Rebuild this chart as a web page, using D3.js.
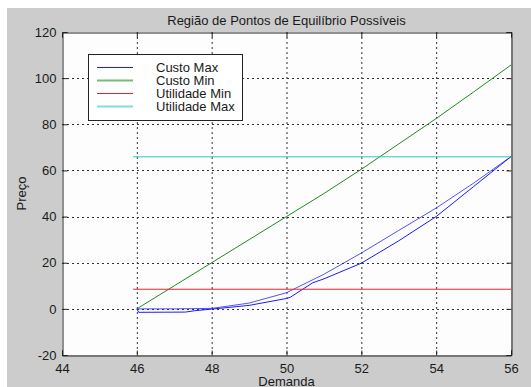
<!DOCTYPE html>
<html>
<head>
<meta charset="utf-8">
<script src="https://cdn.jsdelivr.net/npm/d3@7"></script>
<style>
  html, body { margin: 0; padding: 0; background: #ffffff; }
  svg { display: block; }
  text { font-family: "Liberation Sans", Arial, sans-serif; fill: #1a1a1a; }
</style>
</head>
<body>
<svg id="chart" width="531" height="387"></svg>
<script>
// Demand values (x) and price curves (y)
const demanda = [46, 47, 48, 49, 50, 51, 52, 53, 54, 55, 56];
const custoMin = [0, 10, 20, 30, 40, 50, 60.5, 71.5, 82.5, 94, 105.7];

// Custo Max is drawn as two branches
const custoMaxXA = [46, 46.05, 47.3, 47.55, 48, 49, 50, 50.1, 50.7, 51, 52, 53, 54, 55, 56];
const custoMaxA  = [0, -1.5, -1.4, -0.8, -0.1, 1.5, 4.5, 5, 11.3, 13, 19.8, 29.5, 40, 53, 66];
const custoMaxXB = [46, 47, 48, 49, 50, 51, 52, 53, 54, 55, 56];
const custoMaxB  = [0, 0, 0.2, 2.5, 7, 15, 24.2, 34, 43.7, 54.5, 66];

const utilidadeMin = 8.5;
const utilidadeMax = 65.9;
const utilidadeRange = [45.9, 56];

const xTicks = [44, 46, 48, 50, 52, 54, 56];
const yTicks = [-20, 0, 20, 40, 60, 80, 100, 120];

const seriesNames = ["Custo Max", "Custo Min", "Utilidade Min", "Utilidade Max"];
const seriesColors = ["#1a1aff", "#1e8c1e", "#ee2222", "#2ec4c4"];

const svg = d3.select("#chart");
const W = 531, H = 387;
const plot = { left: 62, right: 511, top: 32, bottom: 355 };

// figure background
svg.append("rect").attr("x", 7).attr("y", 8).attr("width", W - 7).attr("height", H - 8).attr("fill", "#cccccc");
svg.append("rect").attr("x", plot.left).attr("y", plot.top)
  .attr("width", plot.right - plot.left).attr("height", plot.bottom - plot.top).attr("fill", "#fdfdfd");

const x = d3.scaleLinear().domain([44, 56]).range([plot.left, plot.right]);
const y = d3.scaleLinear().domain([-20, 120]).range([plot.bottom, plot.top]);

// dotted grid
const grid = svg.append("g");
grid.selectAll("line.gx").data(xTicks.slice(1, -1)).join("line")
  .attr("x1", d => x(d) + 0.5).attr("x2", d => x(d) + 0.5)
  .attr("y1", plot.top).attr("y2", plot.bottom)
  .attr("stroke", "#333").attr("stroke-width", 1).attr("stroke-dasharray", "2,3");
grid.selectAll("line.gy").data(yTicks.slice(1, -1)).join("line")
  .attr("y1", d => Math.round(y(d)) + 0.5).attr("y2", d => Math.round(y(d)) + 0.5)
  .attr("x1", plot.left).attr("x2", plot.right)
  .attr("stroke", "#333").attr("stroke-width", 1).attr("stroke-dasharray", "2,3");

// axes with inward ticks; plain hyphen for negative labels
const fontSize = "13px";
const fmt = d => String(d);
const bottomAxis = d3.axisBottom(x).tickValues(xTicks).tickSize(-5).tickPadding(8).tickFormat(fmt);
const leftAxis = d3.axisLeft(y).tickValues(yTicks).tickSize(-5).tickPadding(6).tickFormat(fmt);
const topAxis = d3.axisTop(x).tickValues(xTicks).tickSize(-5).tickFormat("");
const rightAxis = d3.axisRight(y).tickValues(yTicks).tickSize(-5).tickFormat("");

function styleAxis(g) {
  g.select(".domain").attr("stroke", "#222");
  g.selectAll(".tick line").attr("stroke", "#222");
  g.selectAll(".tick text").style("font-size", fontSize).attr("fill", "#1a1a1a")
    .style("font-family", "'Liberation Sans', Arial, sans-serif");
}
svg.append("g").attr("transform", `translate(0,${plot.bottom + 0.5})`).call(bottomAxis).call(styleAxis);
svg.append("g").attr("transform", `translate(${plot.left + 0.5},0)`).call(leftAxis).call(styleAxis);
svg.append("g").attr("transform", `translate(0,${plot.top + 0.5})`).call(topAxis).call(styleAxis);
svg.append("g").attr("transform", `translate(${plot.right + 0.5},0)`).call(rightAxis).call(styleAxis);

// data lines
const line = d3.line().x(d => x(d[0])).y(d => y(d[1]));
const lines = svg.append("g").attr("fill", "none").attr("stroke-linejoin", "round");

lines.append("path").datum(d3.zip(custoMaxXB, custoMaxB)).attr("d", line)
  .attr("stroke", seriesColors[0]).attr("stroke-width", 1).attr("stroke-opacity", 0.75);
lines.append("path").datum(d3.zip(custoMaxXA, custoMaxA)).attr("d", line)
  .attr("stroke", seriesColors[0]).attr("stroke-width", 1);
lines.append("path").datum(d3.zip(demanda, custoMin)).attr("d", line)
  .attr("stroke", seriesColors[1]).attr("stroke-width", 1);
lines.append("path").datum(utilidadeRange.map(d => [d, utilidadeMin])).attr("d", line)
  .attr("stroke", seriesColors[2]).attr("stroke-width", 1);
lines.append("path").datum(utilidadeRange.map(d => [d, utilidadeMax])).attr("d", line)
  .attr("stroke", seriesColors[3]).attr("stroke-width", 1);

// legend
const leg = svg.append("g");
leg.append("rect").attr("x", 88.5).attr("y", 54.5).attr("width", 154).attr("height", 66)
  .attr("fill", "#ffffff").attr("stroke", "#222").attr("stroke-width", 1);
const rowY = [67.5, 80.5, 93.5, 106.5];
const legWidths = [1, 2, 1, 2];
seriesNames.forEach((name, i) => {
  leg.append("line").attr("x1", 97).attr("x2", 133).attr("y1", rowY[i]).attr("y2", rowY[i])
    .attr("stroke", seriesColors[i]).attr("stroke-width", legWidths[i])
    .attr("stroke-opacity", legWidths[i] > 1 ? 0.6 : 1);
  leg.append("text").attr("x", 156).attr("y", rowY[i]).attr("dy", "0.35em")
    .style("font-size", fontSize).text(name);
});

// title and axis labels
svg.append("text").attr("x", (plot.left + plot.right) / 2).attr("y", 24.5)
  .attr("text-anchor", "middle").style("font-size", fontSize)
  .text("Região de Pontos de Equilíbrio Possíveis");
svg.append("text").attr("x", (plot.left + plot.right) / 2).attr("y", 386)
  .attr("text-anchor", "middle").style("font-size", fontSize).text("Demanda");
svg.append("text").attr("transform", `translate(26,${(plot.top + plot.bottom) / 2}) rotate(-90)`)
  .attr("text-anchor", "middle").style("font-size", fontSize).text("Preço");
</script>
</body>
</html>
